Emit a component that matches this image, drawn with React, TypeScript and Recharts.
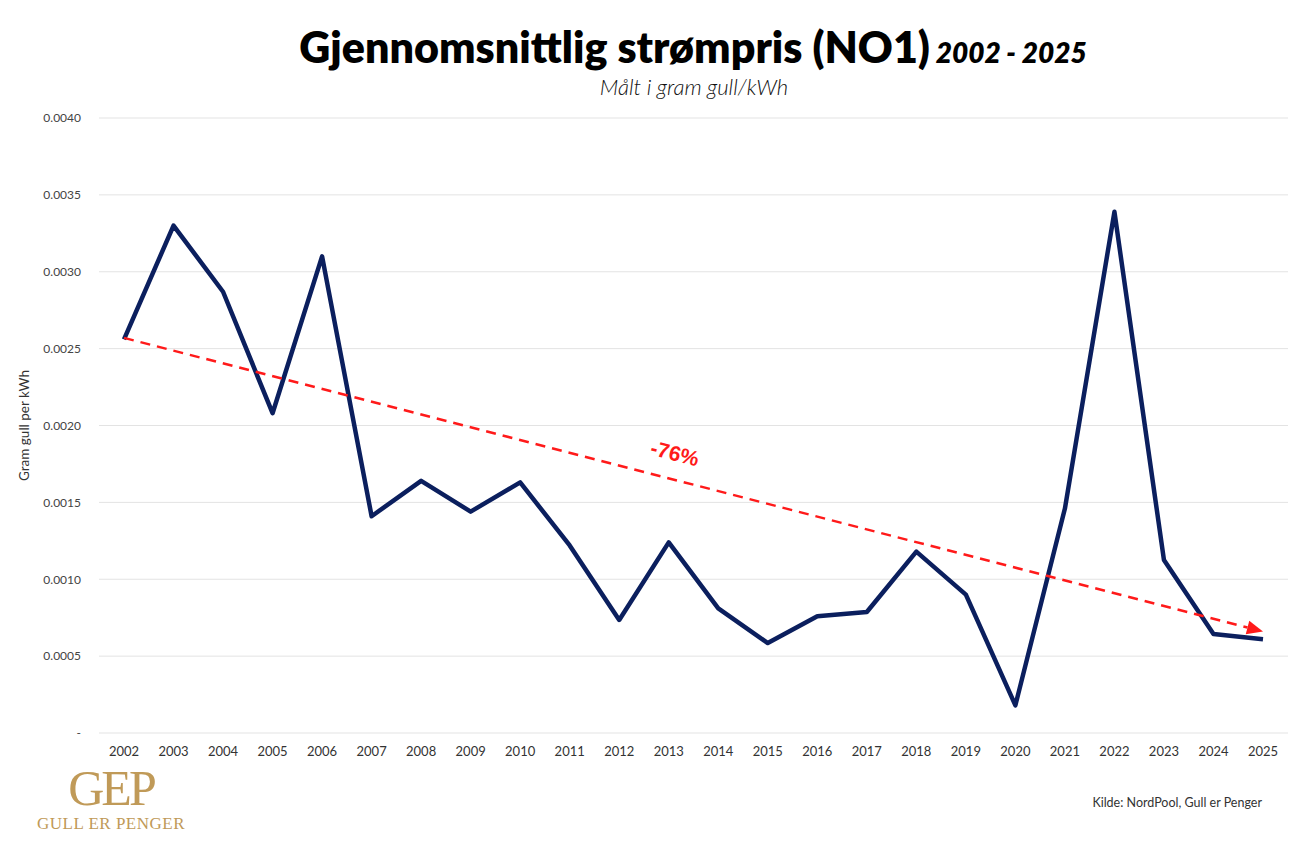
import { CartesianGrid, Line, LineChart, ReferenceLine, XAxis, YAxis } from "recharts";

const years = [
  "2002", "2003", "2004", "2005", "2006", "2007", "2008", "2009", "2010", "2011", "2012", "2013",
  "2014", "2015", "2016", "2017", "2018", "2019", "2020", "2021", "2022", "2023", "2024", "2025",
];

const gramPerKwh = [
  0.00256, 0.0033, 0.00287, 0.00208, 0.0031, 0.00141, 0.00164, 0.00144, 0.00163, 0.00122, 0.000735, 0.00124,
  0.00081, 0.000585, 0.00076, 0.000787, 0.00118, 0.0009, 0.00018, 0.00146, 0.00339, 0.001125, 0.000644, 0.00061,
];

const yTicks = [0, 0.0005, 0.001, 0.0015, 0.002, 0.0025, 0.003, 0.0035, 0.004];

// trend arrow endpoints
const trendStart = { x: "2002", y: 0.00257 };
const trendEnd = { x: "2025", y: 0.00066 };
const trendLabel = "-76%";

const data = years.map((year, i) => ({ year, value: gramPerKwh[i] }));

const FONT = "Lato, 'Open Sans', sans-serif";

function TrendArrow(props: any) {
  const { x1, y1, x2, y2 } = props;
  if ([x1, y1, x2, y2].some((v) => typeof v !== "number")) return null;
  const dx = x2 - x1;
  const dy = y2 - y1;
  const len = Math.sqrt(dx * dx + dy * dy);
  const ux = dx / len;
  const uy = dy / len;
  const head = 16;
  const bx = x2 - ux * head;
  const by = y2 - uy * head;
  const px = -uy * 7;
  const py = ux * 7;
  const t = 0.478;
  const lx = x1 + dx * t + uy * 24;
  const ly = y1 + dy * t - ux * 24;
  const angle = (Math.atan2(dy, dx) * 180) / Math.PI;
  return (
    <g>
      <line x1={x1} y1={y1} x2={bx} y2={by} stroke="#ff1a1a" strokeWidth={2.5} strokeDasharray="10 7" />
      <polygon points={`${x2},${y2} ${bx + px},${by + py} ${bx - px},${by - py}`} fill="#ff1a1a" />
      <text
        x={lx}
        y={ly}
        transform={`rotate(${angle} ${lx} ${ly})`}
        textAnchor="middle"
        dominantBaseline="middle"
        fill="#ff1a1a"
        fontFamily="'Liberation Sans', Arial, sans-serif"
        fontWeight={700}
        fontSize={21}
      >
        {trendLabel}
      </text>
    </g>
  );
}

export default function App() {
  return (
    <div style={{ position: "absolute", left: 0, top: 0, width: 1301, height: 844, background: "#fff", fontFamily: FONT }}>
      <div
        style={{
          position: "absolute",
          top: 21,
          left: 0,
          width: 1386,
          textAlign: "center",
          color: "#000",
          whiteSpace: "nowrap",
        }}
      >
        <span style={{ fontSize: 43, fontWeight: 800 }}>Gjennomsnittlig strømpris (NO1)</span>
        <span style={{ fontSize: 28, fontWeight: 800, fontStyle: "italic" }}> 2002 - 2025</span>
      </div>
      <div
        style={{
          position: "absolute",
          top: 73,
          left: 0,
          width: 1388,
          textAlign: "center",
          fontSize: 22,
          fontStyle: "italic",
          fontWeight: 300,
          color: "#111",
        }}
      >
        Målt i gram gull/kWh
      </div>
      <LineChart width={1301} height={844} data={data} margin={{ top: 118, right: 13, bottom: 81, left: 0 }}>
        <CartesianGrid vertical={false} stroke="#e3e3e3" />
        <XAxis
          dataKey="year"
          axisLine={false}
          tickLine={false}
          padding={{ left: 25, right: 25 }}
          tick={{ fill: "#333", fontSize: 13, fontFamily: FONT }}
          tickMargin={8}
          height={30}
        />
        <YAxis
          type="number"
          domain={[0, 0.004]}
          ticks={yTicks}
          width={99}
          axisLine={false}
          tickLine={false}
          tick={{ fill: "#444", fontSize: 12, fontFamily: FONT }}
          tickMargin={12}
          tickFormatter={(v: number) => (v === 0 ? "-" : v.toFixed(4))}
          label={{
            value: "Gram gull per kWh",
            angle: -90,
            position: "insideLeft",
            offset: 24,
            style: { fill: "#333", fontSize: 13.5, fontFamily: FONT, textAnchor: "middle" },
          }}
        />
        <Line
          type="linear"
          dataKey="value"
          stroke="#0b1f5e"
          strokeWidth={4.5}
          dot={false}
          activeDot={false}
          strokeLinejoin="round"
          isAnimationActive={false}
        />
        <ReferenceLine segment={[trendStart, trendEnd]} shape={TrendArrow} ifOverflow="visible" />
      </LineChart>
      <div style={{ position: "absolute", left: 36, top: 762, width: 150, color: "#c09a58", fontFamily: "'Liberation Serif', 'DejaVu Serif', serif" }}>
        <div style={{ textAlign: "center", fontSize: 50, lineHeight: "52px", letterSpacing: -3 }}>GEP</div>
        <div style={{ textAlign: "center", fontSize: 17, lineHeight: "20px", letterSpacing: 0.5 }}>GULL ER PENGER</div>
      </div>
      <div style={{ position: "absolute", right: 39, top: 795, fontSize: 12.5, color: "#333" }}>
        Kilde: NordPool, Gull er Penger
      </div>
    </div>
  );
}
